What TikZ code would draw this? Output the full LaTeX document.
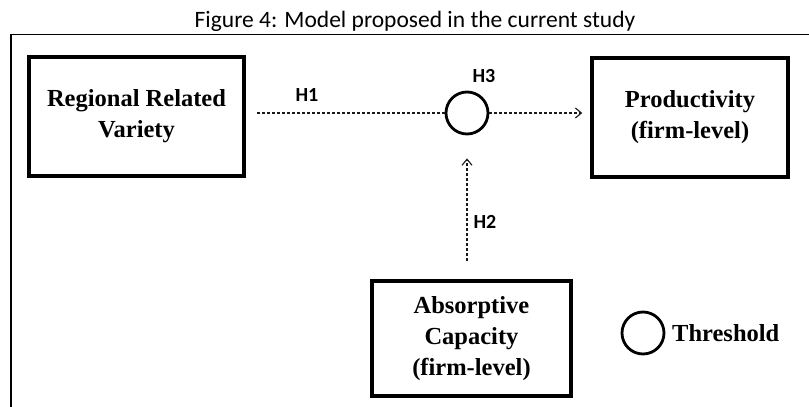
\documentclass[tikz,border=0pt]{standalone}
\usepackage{fontspec}
\setmainfont{Liberation Serif}
\newfontfamily\calfont{Carlito}
\usetikzlibrary{arrows.meta}
\tikzset{
  varbox/.style={draw=black, line width=3.5pt, rectangle, inner sep=0pt, align=center,
    font=\bfseries\fontsize{24.5}{31}\selectfont},
  thr/.style={draw=black, line width=2.8pt, circle, inner sep=0pt, minimum size=42pt},
  hlabel/.style={font=\calfont\bfseries\fontsize{20}{22}\selectfont, inner sep=0pt},
  dashline/.style={draw=black!90, line width=1.1pt, dash pattern=on 3pt off 2pt},
  tip/.style={-{Straight Barb[length=6pt,width=10pt,line width=1.1pt]}}
}
\begin{document}
\begin{tikzpicture}[x=1pt,y=-1pt]
\useasboundingbox (0,0) rectangle (809,407);
\fill[white] (0,0) rectangle (809,407);
% title
\node[font=\calfont\fontsize{23.5}{26}\selectfont, anchor=base, inner sep=0pt] (title) at (415,27) {Figure 4: Model proposed in the current study};
% outer frame (clipped at right and bottom)
\draw[line width=1.8pt] (11,430) -- (11,34.5) -- (830,34.5);
% variable boxes
\node[varbox, minimum width=215pt, minimum height=119pt] (rrv) at (136.5,116.5) {Regional Related\\Variety};
\node[varbox, minimum width=196pt, minimum height=119pt] (prod) at (690,117.5) {Productivity\\(firm-level)};
\node[varbox, minimum width=199pt, minimum height=115pt] (abs) at (471.5,338.5) {Absorptive\\Capacity\\(firm-level)};
% threshold circle
\node[thr] (th) at (467,113) {};
\coordinate (h1start) at (257,113);
% connectors
\draw[dashline] (h1start) -- (th.west);
\draw[dashline, tip, shorten >=8pt] (th.east) -- (th.east -| prod.west);
\draw[dashline, tip, shorten <=18pt, shorten >=23pt] (abs.north -| th.south) -- (th.south);
% labels
\node[hlabel] (h1) at (307,95) {H1};
\node[hlabel] (h3) at (484,76) {H3};
\node[hlabel] (h2) at (485,222) {H2};
% legend
\node[thr] (leg) at (643,333) {};
\node[font=\bfseries\fontsize{24.5}{31}\selectfont, anchor=west, inner sep=0pt] (legtext) at (672,333) {Threshold};
\end{tikzpicture}
\end{document}
